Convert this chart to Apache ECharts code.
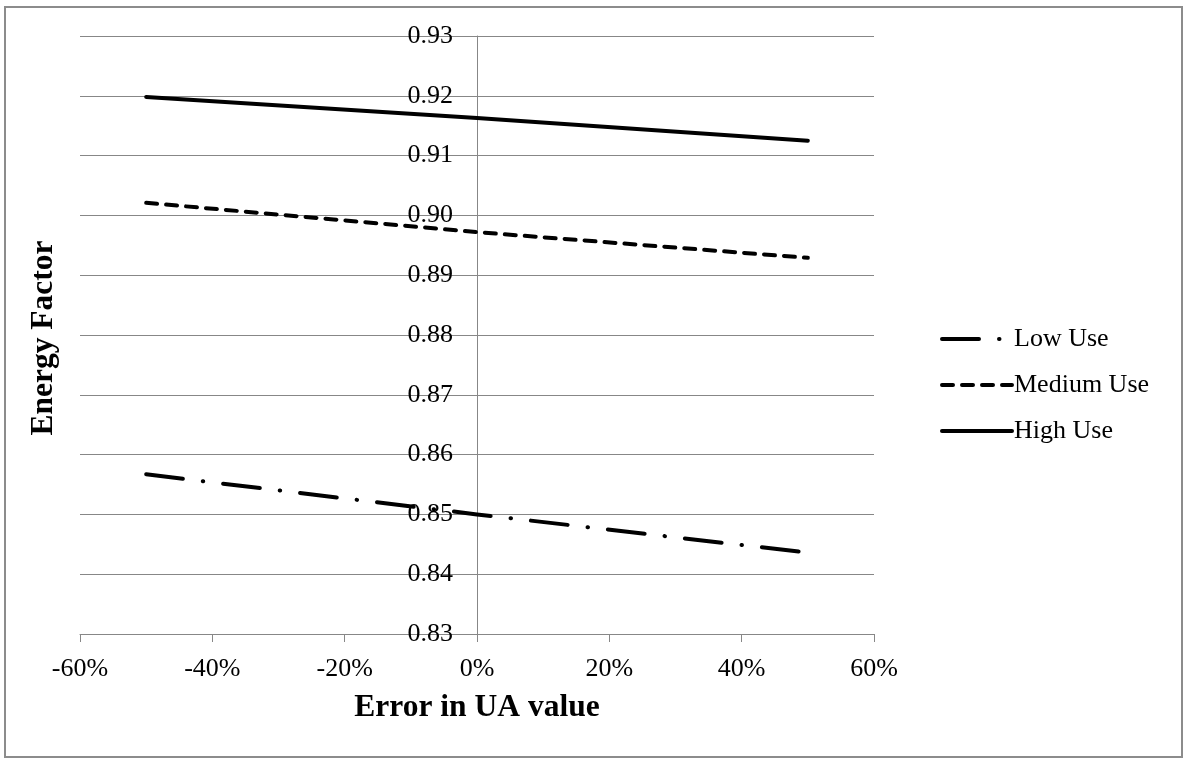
<!DOCTYPE html>
<html>
<head>
<meta charset="utf-8">
<script src="https://cdn.jsdelivr.net/npm/echarts@6/dist/echarts.min.js"></script>
<style>
  html, body { margin: 0; padding: 0; background: #fff; }
  #chart { width: 1188px; height: 759px; }
</style>
</head>
<body>
<div id="chart"></div>
<script>
// Error in UA value (%) at which the energy factor was evaluated
const uaError = [-50, 0, 50];

// Energy factor for each draw pattern
const lowUse = [0.8567, 0.8500, 0.8436];
const mediumUse = [0.9021, 0.8972, 0.8929];
const highUse = [0.9198, 0.9163, 0.9125];

const seriesNames = ['Low Use', 'Medium Use', 'High Use'];

// Axis ranges and tick steps
const xRange = { min: -60, max: 60, step: 20 };
const yRange = { min: 0.83, max: 0.93, step: 0.01 };

const FONT = 'Liberation Serif';
const GRID_GREY = '#878787';

// Plot area placement
const GRID = { left: 80, right: 314, top: 36, bottom: 125 };
const CHART_W = 1188;

function pairs(ys) {
  return uaError.map((x, i) => [x, ys[i]]);
}

// The value axis crosses the category axis at 0%; shift it there from the grid's left edge.
const plotWidth = CHART_W - GRID.left - GRID.right;
const zeroShift = plotWidth * (0 - xRange.min) / (xRange.max - xRange.min);

const chart = echarts.init(document.getElementById('chart'), null, { renderer: 'canvas' });

const lineBase = { color: '#000', width: 4, cap: 'round', join: 'round' };

chart.setOption({
  backgroundColor: '#fff',
  animation: false,
  color: ['#000', '#000', '#000'],
  grid: GRID,
  xAxis: {
    type: 'value',
    min: xRange.min,
    max: xRange.max,
    interval: xRange.step,
    name: 'Error in UA value',
    nameLocation: 'middle',
    nameGap: 58,
    nameTextStyle: { fontFamily: FONT, fontSize: 31.5, fontWeight: 'bold', color: '#000' },
    axisLine: { onZero: false, lineStyle: { color: GRID_GREY, width: 1 } },
    axisTick: { show: true, length: 8, lineStyle: { color: GRID_GREY, width: 1 } },
    axisLabel: {
      margin: 22,
      fontFamily: FONT,
      fontSize: 26,
      color: '#000',
      formatter: v => v + '%'
    },
    splitLine: { show: false }
  },
  yAxis: {
    type: 'value',
    min: yRange.min,
    max: yRange.max,
    interval: yRange.step,
    offset: -zeroShift,
    axisLine: { show: true, onZero: false, lineStyle: { color: GRID_GREY, width: 1 } },
    axisTick: { show: false },
    axisLabel: {
      margin: 24,
      fontFamily: FONT,
      fontSize: 26,
      color: '#000',
      formatter: v => v.toFixed(2)
    },
    splitLine: { show: true, lineStyle: { color: GRID_GREY, width: 1 } }
  },
  legend: {
    orient: 'vertical',
    left: 940,
    top: 326,
    padding: 0,
    itemWidth: 70,
    itemHeight: 14,
    itemGap: 20,
    itemStyle: { opacity: 0 },
    lineStyle: { width: 4 },
    textStyle: { fontFamily: FONT, fontSize: 26, color: '#000', lineHeight: 25, padding: [0, 0, 0, -3] },
    data: seriesNames
  },
  graphic: [
    {
      type: 'rect',
      shape: { x: 5, y: 7, width: 1177, height: 750 },
      style: { fill: 'none', stroke: '#8c8c8c', lineWidth: 2 },
      silent: true,
      z: 100
    },
    {
      type: 'text',
      x: 44,
      y: 338,
      rotation: Math.PI / 2,
      style: {
        text: 'Energy Factor',
        fontFamily: FONT,
        fontSize: 31.5,
        fontWeight: 'bold',
        fill: '#000',
        align: 'center',
        verticalAlign: 'middle'
      }
    }
  ],
  series: [
    {
      name: seriesNames[0],
      type: 'line',
      data: pairs(lowUse),
      symbol: 'none',
      lineStyle: Object.assign({}, lineBase, { type: [37, 20, 0.5, 20] }),
      z: 3
    },
    {
      name: seriesNames[1],
      type: 'line',
      data: pairs(mediumUse),
      symbol: 'none',
      lineStyle: Object.assign({}, lineBase, { type: [11, 9] }),
      z: 3
    },
    {
      name: seriesNames[2],
      type: 'line',
      data: pairs(highUse),
      symbol: 'none',
      lineStyle: Object.assign({}, lineBase, { type: 'solid' }),
      z: 3
    }
  ]
});
</script>
</body>
</html>
